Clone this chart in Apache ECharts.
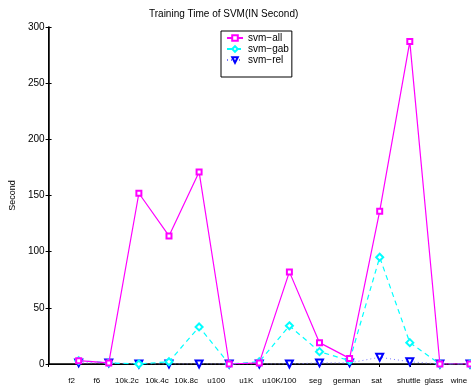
<!DOCTYPE html>
<html>
<head>
<meta charset="utf-8">
<script src="https://cdn.jsdelivr.net/npm/echarts@6/dist/echarts.min.js"></script>
<style>
  html, body { margin: 0; padding: 0; background: #fff; }
  #chart { width: 471px; height: 391px; }
</style>
</head>
<body>
<div id="chart"></div>
<script>
  // data sets on the x axis (positions 1..14)
  const categories = ['f2', 'f6', '10k.2c', '10k.4c', '10k.8c', 'u100', 'u1K', 'u10K/100', 'seg', 'german', 'sat', 'shuttle', 'glass', 'wine'];
  // training time in seconds
  const svmAll = [3, 1, 152, 114, 171, 0, 1, 82, 19, 5, 136, 287, 0, 0];
  const svmGab = [3, 1, 0, 2, 33, 0, 2, 34, 11, 3, 95, 19, 0, 0];
  const svmRel = [1, 1, 0, 0, 0, 0, 0, 0, 1, 1, 6, 2, 0, 0];
  const yTicks = [0, 50, 100, 150, 200, 250, 300];
  // small left nudges of the tick labels, like the original figure
  const labelNudge = [7, 12, 12, 12, 13, 13, 13, 10, 4, 3, 3, 1, 6, 11];

  const font = '"Liberation Sans", Arial, sans-serif';

  function pts(arr) {
    return arr.map(function (v, i) { return [i + 1, v]; });
  }

  let myChart = echarts.init(document.getElementById('chart'));

  myChart.setOption({
    animation: false,
    title: {
      text: 'Training Time of SVM(IN Second)',
      left: 144,
      top: 4,
      textStyle: { fontFamily: font, fontSize: 10, fontWeight: 'normal', color: '#000' }
    },
    legend: {
      orient: 'vertical',
      left: 221,
      top: 31,
      padding: [2, 3, 12, 5],
      itemGap: 1,
      itemWidth: 16,
      itemHeight: 7,
      borderColor: '#000',
      borderWidth: 1,
      backgroundColor: '#fff',
      textStyle: { fontFamily: font, fontSize: 10, color: '#000' },
      data: ['svm\u2212all', 'svm\u2212gab', 'svm\u2212rel']
    },
    grid: { left: 41, right: 1, top: 27, bottom: 27 },
    xAxis: [
      {
        type: 'value', min: 0, max: 14, interval: 1,
        axisLine: { lineStyle: { color: '#000', width: 1.5 } },
        axisTick: { show: false },
        splitLine: { show: false },
        axisLabel: {
          margin: 13,
          fontFamily: font, fontSize: 8, color: '#000',
          formatter: function (v) {
            if (v < 1 || v > 14) return '';
            const i = v - 1;
            return '{l' + i + '|' + categories[i] + '}';
          },
          rich: (function () {
            const r = {};
            labelNudge.forEach(function (d, i) {
              r['l' + i] = { fontFamily: font, fontSize: 8, color: '#000', padding: [0, d * 2, 0, 0] };
            });
            return r;
          })()
        }
      },
      {
        type: 'value', min: 0, max: 14, interval: 1, position: 'top',
        axisLine: { show: true, lineStyle: { color: '#000', width: 1 } },
        axisTick: { show: true, inside: true, length: 3, lineStyle: { color: '#000' } },
        axisLabel: { show: false },
        splitLine: { show: false }
      }
    ],
    yAxis: [
      {
        type: 'value', min: 0, max: 300, interval: 50,
        name: 'Second', nameLocation: 'middle', nameGap: 22,
        nameTextStyle: { fontFamily: font, fontSize: 9, color: '#000' },
        axisLine: { show: true, lineStyle: { color: '#000', width: 1.5 } },
        axisTick: { show: true, inside: true, length: 3, lineStyle: { color: '#000' } },
        axisLabel: {
          margin: 4, fontFamily: font, fontSize: 10, color: '#000',
          formatter: function (v) { return yTicks.indexOf(v) >= 0 ? String(v) : ''; }
        },
        splitLine: { show: false }
      },
      {
        type: 'value', min: 0, max: 300, interval: 50, position: 'right',
        axisLine: { show: true, lineStyle: { color: '#000', width: 1 } },
        axisTick: { show: true, inside: true, length: 3, lineStyle: { color: '#000' } },
        axisLabel: { show: false },
        splitLine: { show: false }
      }
    ],
    series: [
      {
        name: 'svm\u2212rel',
        type: 'line',
        data: pts(svmRel),
        symbol: 'emptyTriangle',
        symbolRotate: 180,
        symbolSize: 7,
        itemStyle: { color: '#0000ff', borderWidth: 1 },
        lineStyle: { color: '#7777ff', width: 1, type: [1, 3] },
        z: 2
      },
      {
        name: 'svm\u2212gab',
        type: 'line',
        data: pts(svmGab),
        symbol: 'emptyDiamond',
        symbolSize: 7,
        itemStyle: { color: '#00ffff', borderWidth: 1 },
        lineStyle: { color: '#00ffff', width: 1.2, type: [5, 4] },
        z: 3
      },
      {
        name: 'svm\u2212all',
        type: 'line',
        data: pts(svmAll),
        symbol: 'emptyRect',
        symbolSize: 5,
        itemStyle: { color: '#ff00ff', borderWidth: 1 },
        lineStyle: { color: '#ff00ff', width: 1.2 },
        z: 4
      }
    ]
  });
</script>
</body>
</html>
